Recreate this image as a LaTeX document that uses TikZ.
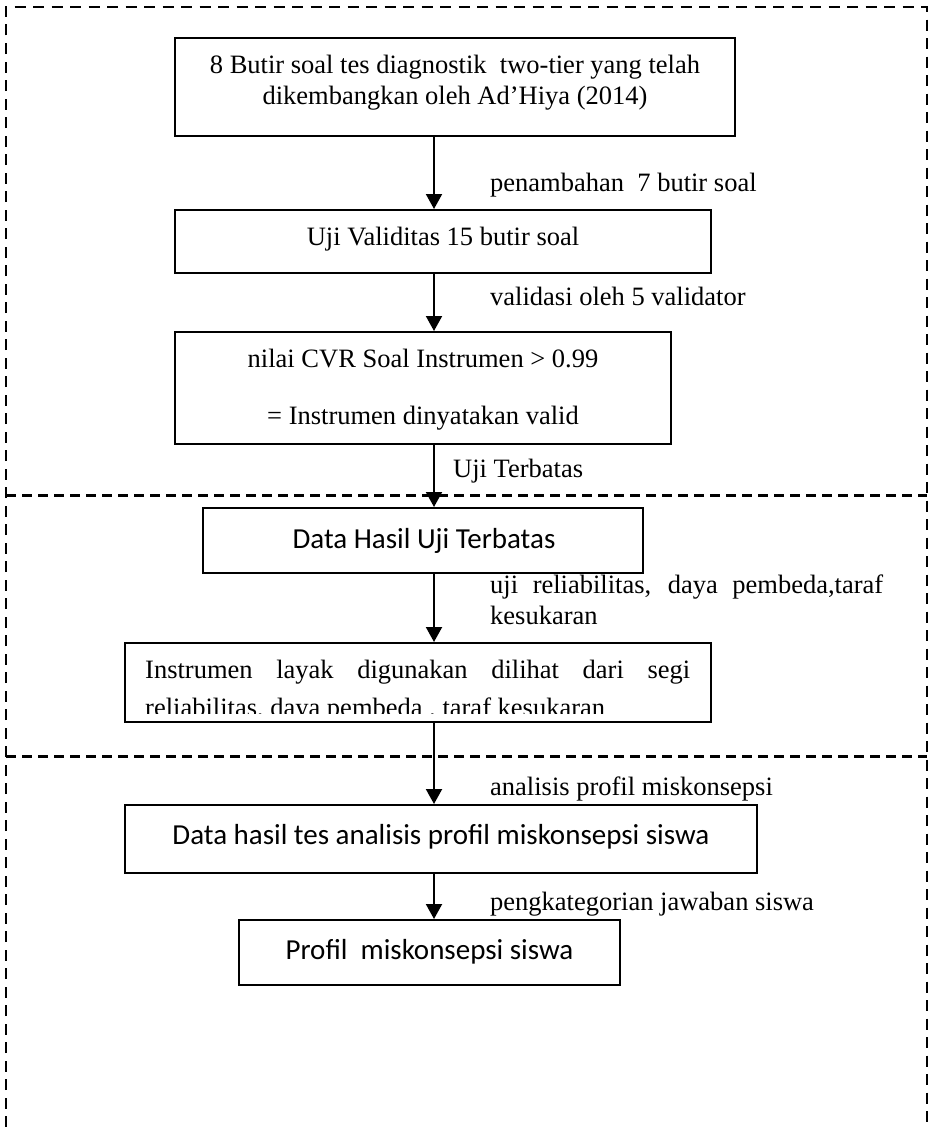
\documentclass[tikz,border=0pt]{standalone}
\usepackage{fontspec}
\setmainfont{Liberation Serif}
\newfontfamily\calfont{Carlito}
\usetikzlibrary{arrows.meta}
\newcommand\srf{\fontsize{26.5}{31}\selectfont}
\newcommand\snf{\calfont\fontsize{29}{34}\selectfont}
\begin{document}
\begin{tikzpicture}[x=1pt,y=-1pt,
  box/.style={draw, line width=2pt, inner sep=0pt},
  txt/.style={anchor=base, inner sep=0pt, font=\srf},
  stxt/.style={anchor=base, inner sep=0pt, font=\snf},
  lbl/.style={anchor=base west, inner sep=0pt, font=\srf},
  arr/.style={line width=2pt, -{Triangle[length=15pt,width=16pt]}},
  frame/.style={line width=2.3pt, dash pattern=on 11pt off 7.5pt},
  sepline/.style={line width=3pt, dash pattern=on 10pt off 6pt}]
\useasboundingbox (0,0) rectangle (929,1127);

% outer dashed frame (open at the bottom)
\coordinate (fbl) at (6,1127);
\coordinate (ftl) at (6,7);
\coordinate (ftr) at (927,7);
\coordinate (fbr) at (927,1127);
\draw[frame] (fbl) -- (ftl) -- (ftr) -- (fbr);

% separators
\coordinate (s1l) at (6,495);
\coordinate (s1r) at (927,495);
\coordinate (s2l) at (6,756);
\coordinate (s2r) at (927,756);
\draw[sepline] (s1l) -- (s1r);
\draw[sepline] (s2l) -- (s2r);

% boxes
\node[box, minimum width=560pt, minimum height=98pt] (b1) at (455,87) {};
\node[box, minimum width=536pt, minimum height=63pt] (b2) at (443,241.5) {};
\node[box, minimum width=496pt, minimum height=112pt] (b3) at (423,388) {};
\node[box, minimum width=440pt, minimum height=65pt] (b4) at (423,540.5) {};
\node[box, minimum width=586pt, minimum height=79pt] (b5) at (418,682.5) {};
\node[box, minimum width=632pt, minimum height=68pt] (b6) at (441,839) {};
\node[box, minimum width=381pt, minimum height=65pt] (b7) at (429.5,952.5) {};

% box texts
\node[txt] (t1) at (455,73) {\parbox[t]{560pt}{\centering 8 Butir soal tes diagnostik\ \ two-tier yang telah\\dikembangkan oleh Ad’Hiya (2014)}};
\node[txt] (t2) at (443,245) {Uji Validitas 15 butir soal};
\node[txt] (t3) at (423,367) {\parbox[t]{496pt}{\centering nilai CVR Soal Instrumen > 0.99\\[26pt]= Instrumen dinyatakan valid}};
\node[stxt] (t4) at (424,548) {Data Hasil Uji Terbatas};
\begin{scope}
\clip (126,644) rectangle (710,713);
\node[lbl] (t5) at (145,678) {\parbox[t]{545pt}{\fontsize{26.5}{38}\selectfont\tolerance=10000\hyphenpenalty=10000 Instrumen layak digunakan dilihat dari segi\linebreak reliabilitas, daya pembeda , taraf kesukaran}};
\end{scope}
\node[stxt] (t6) at (441,844) {Data hasil tes analisis profil miskonsepsi siswa};
\node[stxt] (t7) at (429.5,959) {Profil\ \ miskonsepsi siswa};

% connector labels
\node[lbl] (l1) at (490,191) {penambahan\ \ 7 butir soal};
\node[lbl] (l2) at (490,305) {validasi oleh 5 validator};
\node[lbl] (l3) at (453,477) {Uji Terbatas};
\node[lbl] (l4) at (490,593) {\parbox[t]{393pt}{\tolerance=10000\hyphenpenalty=10000 uji reliabilitas, daya pembeda,taraf\linebreak kesukaran}};
\node[lbl] (l5) at (490,795) {analisis profil miskonsepsi};
\node[lbl] (l6) at (490,910) {pengkategorian jawaban siswa};

% connectors
\coordinate (ax) at (434,0);
\draw[arr] (b1.south -| ax) -- (b2.north -| ax);
\draw[arr] (b2.south -| ax) -- (b3.north -| ax);
\draw[arr] (b3.south -| ax) -- (b4.north -| ax);
\draw[arr] (b4.south -| ax) -- (b5.north -| ax);
\draw[arr] (b5.south -| ax) -- (b6.north -| ax);
\draw[arr] (b6.south -| ax) -- (b7.north -| ax);
\end{tikzpicture}
\end{document}
